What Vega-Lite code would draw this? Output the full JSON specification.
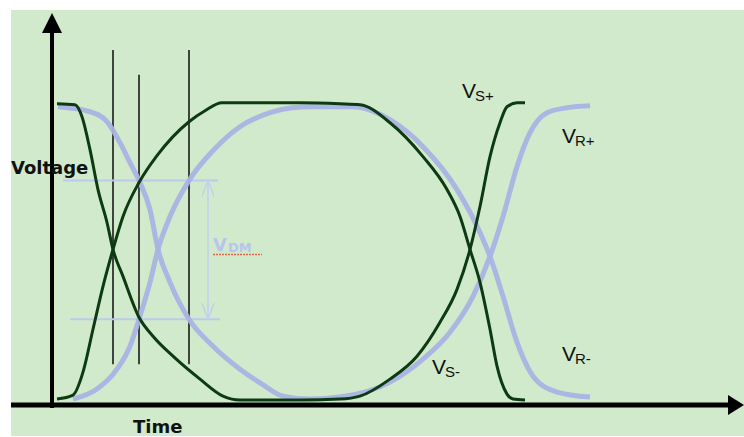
{
  "$schema": "https://vega.github.io/schema/vega-lite/v6.json",
  "width": 744,
  "height": 437,
  "padding": 0,
  "autosize": {"type": "fit", "contains": "padding"},
  "background": "white",
  "config": {"view": {"stroke": null}},
  "datasets": {
    "curves": [
      {"curve": "A", "kind": "S", "t": 5, "v": 302}, {"curve": "A", "kind": "S", "t": 23, "v": 301}, {"curve": "A", "kind": "S", "t": 30, "v": 289}, {"curve": "A", "kind": "S", "t": 38, "v": 256}, {"curve": "A", "kind": "S", "t": 46, "v": 216}, {"curve": "A", "kind": "S", "t": 55, "v": 183}, {"curve": "A", "kind": "S", "t": 61, "v": 156}, {"curve": "A", "kind": "S", "t": 71, "v": 129}, {"curve": "A", "kind": "S", "t": 87, "v": 88}, {"curve": "A", "kind": "S", "t": 101, "v": 69}, {"curve": "A", "kind": "S", "t": 121, "v": 49}, {"curve": "A", "kind": "S", "t": 148, "v": 26}, {"curve": "A", "kind": "S", "t": 171, "v": 9}, {"curve": "A", "kind": "S", "t": 188, "v": 5}, {"curve": "A", "kind": "S", "t": 248, "v": 5}, {"curve": "A", "kind": "S", "t": 288, "v": 6}, {"curve": "A", "kind": "S", "t": 308, "v": 9}, {"curve": "A", "kind": "S", "t": 338, "v": 26}, {"curve": "A", "kind": "S", "t": 365, "v": 49}, {"curve": "A", "kind": "S", "t": 388, "v": 83}, {"curve": "A", "kind": "S", "t": 405, "v": 116}, {"curve": "A", "kind": "S", "t": 418, "v": 156}, {"curve": "A", "kind": "S", "t": 428, "v": 199}, {"curve": "A", "kind": "S", "t": 438, "v": 249}, {"curve": "A", "kind": "S", "t": 448, "v": 283}, {"curve": "A", "kind": "S", "t": 455, "v": 299}, {"curve": "A", "kind": "S", "t": 465, "v": 303}, {"curve": "A", "kind": "S", "t": 473, "v": 303},
      {"curve": "B", "kind": "S", "t": 5, "v": 6}, {"curve": "B", "kind": "S", "t": 21, "v": 10}, {"curve": "B", "kind": "S", "t": 31, "v": 33}, {"curve": "B", "kind": "S", "t": 41, "v": 76}, {"curve": "B", "kind": "S", "t": 51, "v": 119}, {"curve": "B", "kind": "S", "t": 61, "v": 156}, {"curve": "B", "kind": "S", "t": 71, "v": 189}, {"curve": "B", "kind": "S", "t": 87, "v": 223}, {"curve": "B", "kind": "S", "t": 105, "v": 250}, {"curve": "B", "kind": "S", "t": 137, "v": 284}, {"curve": "B", "kind": "S", "t": 153, "v": 295}, {"curve": "B", "kind": "S", "t": 170, "v": 303}, {"curve": "B", "kind": "S", "t": 248, "v": 303}, {"curve": "B", "kind": "S", "t": 288, "v": 302}, {"curve": "B", "kind": "S", "t": 308, "v": 301}, {"curve": "B", "kind": "S", "t": 338, "v": 283}, {"curve": "B", "kind": "S", "t": 371, "v": 249}, {"curve": "B", "kind": "S", "t": 395, "v": 216}, {"curve": "B", "kind": "S", "t": 408, "v": 189}, {"curve": "B", "kind": "S", "t": 418, "v": 156}, {"curve": "B", "kind": "S", "t": 428, "v": 123}, {"curve": "B", "kind": "S", "t": 438, "v": 76}, {"curve": "B", "kind": "S", "t": 445, "v": 39}, {"curve": "B", "kind": "S", "t": 455, "v": 11}, {"curve": "B", "kind": "S", "t": 461, "v": 6}, {"curve": "B", "kind": "S", "t": 473, "v": 5},
      {"curve": "C", "kind": "R", "t": 6, "v": 299}, {"curve": "C", "kind": "R", "t": 38, "v": 294}, {"curve": "C", "kind": "R", "t": 55, "v": 284}, {"curve": "C", "kind": "R", "t": 68, "v": 263}, {"curve": "C", "kind": "R", "t": 78, "v": 243}, {"curve": "C", "kind": "R", "t": 87, "v": 225}, {"curve": "C", "kind": "R", "t": 98, "v": 196}, {"curve": "C", "kind": "R", "t": 106, "v": 156}, {"curve": "C", "kind": "R", "t": 118, "v": 123}, {"curve": "C", "kind": "R", "t": 137, "v": 86}, {"curve": "C", "kind": "R", "t": 161, "v": 59}, {"curve": "C", "kind": "R", "t": 188, "v": 36}, {"curve": "C", "kind": "R", "t": 210, "v": 21}, {"curve": "C", "kind": "R", "t": 231, "v": 9}, {"curve": "C", "kind": "R", "t": 258, "v": 6}, {"curve": "C", "kind": "R", "t": 288, "v": 8}, {"curve": "C", "kind": "R", "t": 338, "v": 23}, {"curve": "C", "kind": "R", "t": 371, "v": 46}, {"curve": "C", "kind": "R", "t": 398, "v": 73}, {"curve": "C", "kind": "R", "t": 421, "v": 109}, {"curve": "C", "kind": "R", "t": 438, "v": 149}, {"curve": "C", "kind": "R", "t": 451, "v": 189}, {"curve": "C", "kind": "R", "t": 465, "v": 239}, {"curve": "C", "kind": "R", "t": 478, "v": 273}, {"curve": "C", "kind": "R", "t": 495, "v": 293}, {"curve": "C", "kind": "R", "t": 515, "v": 298}, {"curve": "C", "kind": "R", "t": 538, "v": 300},
      {"curve": "D", "kind": "R", "t": 21, "v": 6}, {"curve": "D", "kind": "R", "t": 45, "v": 16}, {"curve": "D", "kind": "R", "t": 65, "v": 36}, {"curve": "D", "kind": "R", "t": 78, "v": 59}, {"curve": "D", "kind": "R", "t": 87, "v": 86}, {"curve": "D", "kind": "R", "t": 98, "v": 123}, {"curve": "D", "kind": "R", "t": 106, "v": 156}, {"curve": "D", "kind": "R", "t": 118, "v": 189}, {"curve": "D", "kind": "R", "t": 137, "v": 225}, {"curve": "D", "kind": "R", "t": 161, "v": 255}, {"curve": "D", "kind": "R", "t": 188, "v": 279}, {"curve": "D", "kind": "R", "t": 218, "v": 293}, {"curve": "D", "kind": "R", "t": 240, "v": 298}, {"curve": "D", "kind": "R", "t": 258, "v": 299}, {"curve": "D", "kind": "R", "t": 301, "v": 299}, {"curve": "D", "kind": "R", "t": 338, "v": 286}, {"curve": "D", "kind": "R", "t": 371, "v": 259}, {"curve": "D", "kind": "R", "t": 405, "v": 216}, {"curve": "D", "kind": "R", "t": 428, "v": 173}, {"curve": "D", "kind": "R", "t": 438, "v": 149}, {"curve": "D", "kind": "R", "t": 451, "v": 109}, {"curve": "D", "kind": "R", "t": 465, "v": 63}, {"curve": "D", "kind": "R", "t": 481, "v": 29}, {"curve": "D", "kind": "R", "t": 505, "v": 13}, {"curve": "D", "kind": "R", "t": 538, "v": 8}
    ],
    "markers": [
      {"t": 61, "vtop": 356, "vbot": 41},
      {"t": 87, "vtop": 331, "vbot": 41},
      {"t": 137, "vtop": 356, "vbot": 41}
    ],
    "levels": [
      {"v": 225, "t0": 11, "t1": 166},
      {"v": 86, "t0": 18, "t1": 168}
    ],
    "axisLabels": [
      {"label": "Voltage", "t": -41, "v": 232},
      {"label": "Time", "t": 81, "v": -28}
    ],
    "seriesLabels": [
      {"main": "V", "sub": "S+", "t": 410, "v": 308},
      {"main": "V", "sub": "R+", "t": 510, "v": 263},
      {"main": "V", "sub": "S-", "t": 380, "v": 31},
      {"main": "V", "sub": "R-", "t": 510, "v": 44}
    ]
  },
  "layer": [
    {
      "data": {"values": [{}]},
      "mark": {"type": "rect", "color": "#d1eacc"},
      "encoding": {
        "x": {"datum": -41, "type": "quantitative", "scale": {"domain": [-52, 692], "nice": false, "zero": false}, "axis": null},
        "x2": {"datum": 692},
        "y": {"datum": 396, "type": "quantitative", "scale": {"domain": [-31, 406], "nice": false, "zero": false}, "axis": null},
        "y2": {"datum": -31}
      }
    },
    {
      "data": {"name": "markers"},
      "mark": {"type": "rule", "color": "#1a1a1a", "strokeWidth": 1.6},
      "encoding": {
        "x": {"field": "t", "type": "quantitative", "scale": {"domain": [-52, 692], "nice": false, "zero": false}, "axis": null},
        "y": {"field": "vtop", "type": "quantitative", "scale": {"domain": [-31, 406], "nice": false, "zero": false}, "axis": null},
        "y2": {"field": "vbot"}
      }
    },
    {
      "data": {"name": "levels"},
      "mark": {"type": "rule", "color": "#bccaee", "strokeWidth": 2},
      "encoding": {
        "x": {"field": "t0", "type": "quantitative", "scale": {"domain": [-52, 692], "nice": false, "zero": false}, "axis": null},
        "x2": {"field": "t1"},
        "y": {"field": "v", "type": "quantitative", "scale": {"domain": [-31, 406], "nice": false, "zero": false}, "axis": null}
      }
    },
    {
      "data": {"values": [{}]},
      "mark": {"type": "rule", "color": "#c2cff0", "strokeWidth": 1.5},
      "encoding": {
        "x": {"datum": 156, "type": "quantitative", "scale": {"domain": [-52, 692], "nice": false, "zero": false}, "axis": null},
        "y": {"datum": 223, "type": "quantitative", "scale": {"domain": [-31, 406], "nice": false, "zero": false}, "axis": null},
        "y2": {"datum": 88}
      }
    },
    {
      "data": {"values": [{}]},
      "mark": {"type": "point", "shape": "M-0.75,1L0,-1L0.75,1", "size": 256, "filled": false, "color": "#c2cff0", "strokeWidth": 1.5, "opacity": 1},
      "encoding": {
        "x": {"datum": 156, "type": "quantitative", "scale": {"domain": [-52, 692], "nice": false, "zero": false}, "axis": null},
        "y": {"datum": 217, "type": "quantitative", "scale": {"domain": [-31, 406], "nice": false, "zero": false}, "axis": null}
      }
    },
    {
      "data": {"values": [{}]},
      "mark": {"type": "point", "shape": "M-0.75,-1L0,1L0.75,-1", "size": 256, "filled": false, "color": "#c2cff0", "strokeWidth": 1.5, "opacity": 1},
      "encoding": {
        "x": {"datum": 156, "type": "quantitative", "scale": {"domain": [-52, 692], "nice": false, "zero": false}, "axis": null},
        "y": {"datum": 94, "type": "quantitative", "scale": {"domain": [-31, 406], "nice": false, "zero": false}, "axis": null}
      }
    },
    {
      "data": {"name": "curves"},
      "transform": [{"filter": "datum.kind === 'R'"}],
      "mark": {"type": "line", "color": "#a9b3e4", "strokeWidth": 5, "interpolate": "monotone", "opacity": 0.95},
      "encoding": {
        "x": {"field": "t", "type": "quantitative", "scale": {"domain": [-52, 692], "nice": false, "zero": false}, "axis": null},
        "y": {"field": "v", "type": "quantitative", "scale": {"domain": [-31, 406], "nice": false, "zero": false}, "axis": null},
        "detail": {"field": "curve"},
        "order": {"field": "t", "type": "quantitative"}
      }
    },
    {
      "data": {"name": "curves"},
      "transform": [{"filter": "datum.kind === 'S'"}],
      "mark": {"type": "line", "color": "#0c3a12", "strokeWidth": 3, "interpolate": "monotone"},
      "encoding": {
        "x": {"field": "t", "type": "quantitative", "scale": {"domain": [-52, 692], "nice": false, "zero": false}, "axis": null},
        "y": {"field": "v", "type": "quantitative", "scale": {"domain": [-31, 406], "nice": false, "zero": false}, "axis": null},
        "detail": {"field": "curve"},
        "order": {"field": "t", "type": "quantitative"}
      }
    },
    {
      "data": {"values": [{}]},
      "mark": {"type": "rule", "color": "#000000", "strokeWidth": 4},
      "encoding": {
        "x": {"datum": 0, "type": "quantitative", "scale": {"domain": [-52, 692], "nice": false, "zero": false}, "axis": null},
        "y": {"datum": -3, "type": "quantitative", "scale": {"domain": [-31, 406], "nice": false, "zero": false}, "axis": null},
        "y2": {"datum": 378}
      }
    },
    {
      "data": {"values": [{}]},
      "mark": {"type": "rule", "color": "#000000", "strokeWidth": 5},
      "encoding": {
        "x": {"datum": -41, "type": "quantitative", "scale": {"domain": [-52, 692], "nice": false, "zero": false}, "axis": null},
        "x2": {"datum": 680},
        "y": {"datum": 0, "type": "quantitative", "scale": {"domain": [-31, 406], "nice": false, "zero": false}, "axis": null}
      }
    },
    {
      "data": {"values": [{}]},
      "mark": {"type": "point", "shape": "M0,-1L1,1L-1,1Z", "size": 400, "filled": true, "color": "#000000", "opacity": 1},
      "encoding": {
        "x": {"datum": 0, "type": "quantitative", "scale": {"domain": [-52, 692], "nice": false, "zero": false}, "axis": null},
        "y": {"datum": 383, "type": "quantitative", "scale": {"domain": [-31, 406], "nice": false, "zero": false}, "axis": null}
      }
    },
    {
      "data": {"values": [{}]},
      "mark": {"type": "point", "shape": "M1,0L-0.6,1L-0.6,-1Z", "size": 400, "filled": true, "color": "#000000", "opacity": 1},
      "encoding": {
        "x": {"datum": 682, "type": "quantitative", "scale": {"domain": [-52, 692], "nice": false, "zero": false}, "axis": null},
        "y": {"datum": 0, "type": "quantitative", "scale": {"domain": [-31, 406], "nice": false, "zero": false}, "axis": null}
      }
    },
    {
      "data": {"name": "axisLabels"},
      "mark": {"type": "text", "font": "DejaVu Sans", "fontWeight": "bold", "fontSize": 18, "align": "left", "baseline": "alphabetic", "color": "#111111"},
      "encoding": {
        "x": {"field": "t", "type": "quantitative", "scale": {"domain": [-52, 692], "nice": false, "zero": false}, "axis": null},
        "y": {"field": "v", "type": "quantitative", "scale": {"domain": [-31, 406], "nice": false, "zero": false}, "axis": null},
        "text": {"field": "label"}
      }
    },
    {
      "data": {"name": "seriesLabels"},
      "mark": {"type": "text", "font": "Liberation Sans", "fontSize": 21, "align": "left", "baseline": "alphabetic", "color": "#111111"},
      "encoding": {
        "x": {"field": "t", "type": "quantitative", "scale": {"domain": [-52, 692], "nice": false, "zero": false}, "axis": null},
        "y": {"field": "v", "type": "quantitative", "scale": {"domain": [-31, 406], "nice": false, "zero": false}, "axis": null},
        "text": {"field": "main"}
      }
    },
    {
      "data": {"name": "seriesLabels"},
      "mark": {"type": "text", "font": "Liberation Sans", "fontSize": 15, "align": "left", "baseline": "alphabetic", "color": "#111111", "dx": 13, "dy": 3},
      "encoding": {
        "x": {"field": "t", "type": "quantitative", "scale": {"domain": [-52, 692], "nice": false, "zero": false}, "axis": null},
        "y": {"field": "v", "type": "quantitative", "scale": {"domain": [-31, 406], "nice": false, "zero": false}, "axis": null},
        "text": {"field": "sub"}
      }
    },
    {
      "data": {"values": [{"main": "V", "sub": "DM"}]},
      "mark": {"type": "text", "font": "DejaVu Sans", "fontWeight": "bold", "fontSize": 18, "align": "left", "baseline": "alphabetic", "color": "#b7c5ee"},
      "encoding": {
        "x": {"datum": 161, "type": "quantitative", "scale": {"domain": [-52, 692], "nice": false, "zero": false}, "axis": null},
        "y": {"datum": 154, "type": "quantitative", "scale": {"domain": [-31, 406], "nice": false, "zero": false}, "axis": null},
        "text": {"field": "main"}
      }
    },
    {
      "data": {"values": [{"main": "V", "sub": "DM"}]},
      "mark": {"type": "text", "font": "DejaVu Sans", "fontWeight": "bold", "fontSize": 13, "align": "left", "baseline": "alphabetic", "color": "#b7c5ee", "dx": 15, "dy": 1},
      "encoding": {
        "x": {"datum": 161, "type": "quantitative", "scale": {"domain": [-52, 692], "nice": false, "zero": false}, "axis": null},
        "y": {"datum": 154, "type": "quantitative", "scale": {"domain": [-31, 406], "nice": false, "zero": false}, "axis": null},
        "text": {"field": "sub"}
      }
    },
    {
      "data": {"values": [{}]},
      "mark": {"type": "rule", "color": "#e06a50", "strokeWidth": 1.5, "strokeDash": [2, 1]},
      "encoding": {
        "x": {"datum": 161, "type": "quantitative", "scale": {"domain": [-52, 692], "nice": false, "zero": false}, "axis": null},
        "x2": {"datum": 210},
        "y": {"datum": 151, "type": "quantitative", "scale": {"domain": [-31, 406], "nice": false, "zero": false}, "axis": null}
      }
    }
  ]
}
